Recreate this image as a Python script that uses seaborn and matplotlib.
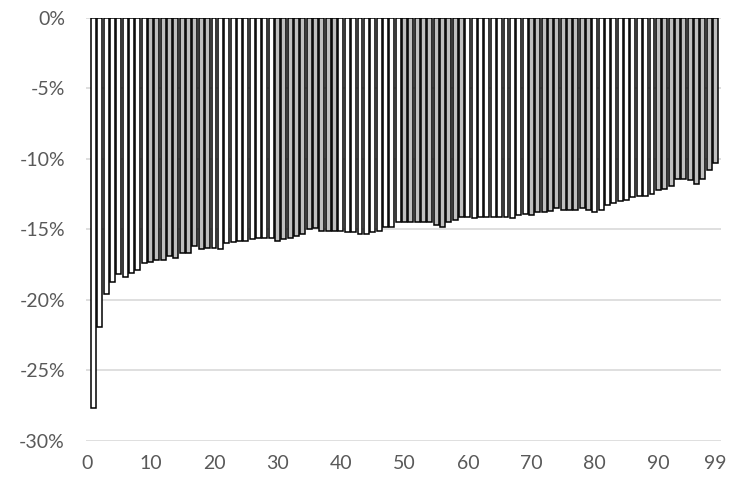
import matplotlib
matplotlib.use("Agg")
import matplotlib.pyplot as plt
import seaborn as sns
import pandas as pd
from matplotlib.ticker import FuncFormatter

ranks = list(range(1, 100))
values = [
    -27.7, -21.9, -19.6, -18.7, -18.2, -18.4, -18.1, -17.9, -17.4, -17.3,
    -17.2, -17.2, -16.9, -17.0, -16.7, -16.7, -16.2, -16.4, -16.3, -16.3,
    -16.4, -16.0, -15.9, -15.8, -15.8, -15.7, -15.6, -15.6, -15.6, -15.8,
    -15.7, -15.6, -15.5, -15.3, -15.0, -14.9, -15.1, -15.1, -15.1, -15.1,
    -15.2, -15.2, -15.3, -15.3, -15.2, -15.1, -14.8, -14.8, -14.5, -14.5,
    -14.5, -14.5, -14.5, -14.5, -14.7, -14.8, -14.5, -14.3, -14.1, -14.1,
    -14.2, -14.1, -14.1, -14.1, -14.1, -14.1, -14.2, -14.0, -13.9, -14.0,
    -13.8, -13.8, -13.7, -13.5, -13.6, -13.6, -13.6, -13.5, -13.6, -13.8,
    -13.6, -13.3, -13.1, -13.0, -12.9, -12.7, -12.6, -12.6, -12.5, -12.2,
    -12.1, -11.9, -11.4, -11.4, -11.5, -11.8, -11.4, -10.8, -10.3,
]
groups = ["odd" if (r // 10) % 2 == 1 else "even" for r in ranks]
x_ticks = [0, 10, 20, 30, 40, 50, 60, 70, 80, 90, 99]
y_ticks = [0, -5, -10, -15, -20, -25, -30]

df = pd.DataFrame({"rank": ranks, "value": values, "group": groups})

sns.set_theme(style="white")
plt.rcParams["font.family"] = ["Lato", "DejaVu Sans"]

fig = plt.figure(figsize=(7.33, 4.86), dpi=100)
ax = fig.add_axes([0.117, 0.093, 0.866, 0.870])

sns.barplot(data=df, x="rank", y="value", hue="group", native_scale=True,
            dodge=False, palette={"even": "#ffffff", "odd": "#bfbfbf"},
            edgecolor="black", linewidth=1.1, width=0.78, legend=False,
            ax=ax, zorder=3)

ax.set_ylim(-30, 0)
ax.set_xlim(-0.2, 99.8)
ax.set_yticks(y_ticks)
ax.yaxis.set_major_formatter(FuncFormatter(lambda v, p: f"{int(round(v))}%"))
ax.set_xticks(x_ticks)
ax.set_xticklabels([str(t) for t in x_ticks])
ax.grid(axis="y", color="#d9d9d9", linewidth=1.2, zorder=0)
ax.grid(axis="x", visible=False)
for s in ax.spines.values():
    s.set_visible(False)
ax.tick_params(axis="both", length=0, labelsize=14, colors="#595959")
ax.tick_params(axis="y", pad=15)
ax.tick_params(axis="x", pad=10)
ax.set_xlabel("")
ax.set_ylabel("")

fig.savefig("out.png", dpi=100)
